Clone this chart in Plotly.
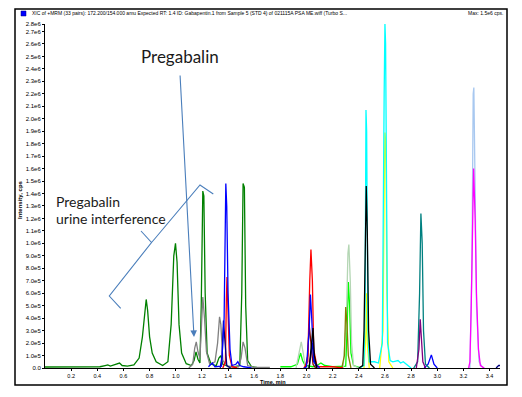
import plotly.graph_objects as go

# ---------------- data ----------------
green_t = [0.00, 0.37, 0.42, 0.46, 0.48, 0.50, 0.55, 0.57, 0.59, 0.63, 0.68, 0.72, 0.745, 0.765, 0.774, 0.785, 0.80, 0.82, 0.85, 0.90,
           0.94, 0.965, 0.985, 0.998, 1.01, 1.025, 1.045, 1.08, 1.12, 1.14, 1.155, 1.17, 1.185, 1.195, 1.207, 1.215, 1.225, 1.24,
           1.27, 1.31, 1.33, 1.345, 1.36, 1.40, 1.45, 1.49, 1.505, 1.515, 1.525, 1.535, 1.55, 1.58, 1.62]
green_i = [0.8e4, 0.8e4, 1.0e4, 2.0e4, 2.5e4, 1.5e4, 3.0e4, 4.0e4, 2.0e4, 1.5e4, 2.5e4, 8e4, 2.5e5, 4.8e5, 5.5e5, 4.6e5, 2.5e5, 1.2e5, 5e4, 2.0e4,
           5e4, 3.5e5, 9.0e5, 1.0e6, 8.5e5, 3.5e5, 1.2e5, 3.5e4, 2.0e4, 6e4, 1.3e5, 7e4, 4e4, 5e5, 1.42e6, 1.38e6, 6e5, 1.2e5,
           3e4, 2e4, 8e4, 1.0e5, 3e4, 1.5e4, 1.0e4, 2e4, 6e5, 1.48e6, 1.45e6, 5e5, 6e4, 1.0e4, 0.5e4]

gray_t = [1.10, 1.13, 1.145, 1.157, 1.17, 1.185, 1.195, 1.207, 1.22, 1.235, 1.26, 1.30, 1.32, 1.335, 1.345, 1.36, 1.40, 1.48, 1.50, 1.515, 1.53, 1.55, 1.60, 1.72]
gray_i = [0, 3e4, 1.6e5, 2.1e5, 1.3e5, 8e4, 3e5, 5.7e5, 4e5, 1.3e5, 3e4, 5e4, 2e5, 4.1e5, 3.5e5, 6e4, 1e4, 1e4, 8e4, 2.1e5, 1.6e5, 2e4, 5e3, 5e3]

blue_t = [1.25, 1.28, 1.30, 1.35, 1.37, 1.378, 1.383, 1.39, 1.40, 1.415, 1.43, 1.46, 1.475, 1.49, 1.52, 1.58, None,
          1.98, 2.00, 2.02, 2.03, 2.04, 2.055, 2.10, None,
          2.90, 2.93, 2.955, 2.975, 3.00]
blue_i = [1e4, 4e4, 1e4, 1.5e4, 4e5, 1.2e6, 1.48e6, 1.3e6, 6e5, 1.5e5, 2e4, 3e4, 5e4, 2e4, 1e4, 0, None,
          0, 1e4, 3e5, 5.9e5, 4e5, 5e4, 0, None,
          0, 3e4, 1.05e5, 3e4, 0]

navy_t = [1.34, 1.355, 1.365, 1.375, 1.39, 1.42, None, 2.02, 2.035, 2.045, 2.06, 2.08, None, 3.45, 3.47, 3.48]
navy_i = [0, 1e5, 3.8e5, 2e5, 2e4, 0, None, 0, 1.5e5, 2e5, 5e4, 0, None, 0, 2e4, 2e4]

red_t = [1.36, 1.38, 1.387, 1.392, 1.40, 1.41, 1.43, 1.47, None,
         1.98, 2.01, 2.025, 2.034, 2.045, 2.055, 2.08, 2.10, 2.20, 2.28]
red_i = [0, 5e4, 5.5e5, 7.3e5, 4.5e5, 1e5, 1e4, 0, None,
         0, 5e4, 7e5, 9.5e5, 7e5, 1.5e5, 1.5e4, 1e4, 1e4, 0]

maroon_t = [1.99, 2.01, 2.02, 2.035, 2.05, 2.07]
maroon_i = [0, 1e5, 3.5e5, 2e5, 3e4, 0]

palegreen_t = [1.92, 1.95, 1.96, 1.975, 1.99, 2.02, None, 2.28, 2.305, 2.317, 2.324, 2.335, 2.345, 2.36, 2.40]
palegreen_i = [0, 1.5e5, 2.1e5, 1.2e5, 2e4, 0, None, 0, 4e5, 9.2e5, 9.9e5, 7e5, 2e5, 2e4, 0]

lime_t = [1.80, 1.88, 1.93, 1.955, 1.97, 1.99, 2.05, 2.08, 2.11, 2.14, 2.20, 2.30, 2.31, 2.32, 2.33, 2.34, 2.36, 2.42]
lime_i = [1e4, 1e4, 3e4, 1.2e5, 6e4, 2e4, 1e4, 2e4, 4e4, 2e4, 1e4, 1.5e4, 3e5, 6.9e5, 5e5, 1.2e5, 2e4, 0]

olive_t = [2.27, 2.29, 2.30, 2.31, 2.32, 2.34]
olive_i = [0, 1e5, 4.9e5, 3.5e5, 1e5, 0]

black_t = [2.02, 2.04, 2.05, 2.06, 2.08, None, 2.40, 2.43, 2.44, 2.45, 2.457, 2.465, 2.475, 2.49, 2.52]
black_i = [0, 2.5e5, 3.2e5, 1e5, 0, None, 0, 2e4, 3e5, 1.2e6, 1.46e6, 1.1e6, 3e5, 3e4, 0]

cyan_t = [2.40, 2.44, 2.448, 2.455, 2.46, 2.47, 2.48, 2.52, 2.55, 2.58, 2.594, 2.600, 2.605, 2.612, 2.62, 2.64, 2.66,
          2.70, 2.72, 2.74, 2.78, 2.80]
cyan_i = [0, 2e4, 5e5, 2.07e6, 1.9e6, 3e5, 5e4, 5e4, 4e4, 2e5, 2.2e6, 2.76e6, 2.6e6, 1.5e6, 2e5, 6e4, 5e4,
          6e4, 4e4, 5e4, 2e4, 0]

yellow_t = [2.44, 2.455, 2.46, 2.465, 2.48, None, 2.56, 2.585, 2.595, 2.600, 2.607, 2.615, 2.63, 2.66]
yellow_i = [0, 3e5, 6e5, 2e5, 0, None, 0, 3e5, 1.5e6, 1.89e6, 1.8e6, 6e5, 5e4, 0]

teal_t = [2.82, 2.85, 2.865, 2.875, 2.885, 2.895, 2.91, 2.94]
teal_i = [0, 5e4, 6e5, 1.24e6, 1.0e6, 3e5, 3e4, 0]

purple_t = [2.84, 2.86, 2.87, 2.88, 2.89, 2.91]
purple_i = [0, 1.5e5, 3.9e5, 2.5e5, 5e4, 0]

lightblue_t = [3.25, 3.265, 3.275, 3.28, 3.29, 3.30, 3.32, 3.35]
lightblue_i = [0, 8e5, 2.2e6, 2.25e6, 1.4e6, 5e5, 5e4, 0]

magenta_t = [3.24, 3.25, 3.26, 3.27, 3.278, 3.29, 3.30, 3.315, 3.33, 3.36]
magenta_i = [0, 5e4, 5e5, 1.3e6, 1.6e6, 1.2e6, 6e5, 1.5e5, 2e4, 0]

y_tick_vals = [i * 1e5 for i in range(28)] + [2.76e6]
y_tick_text = (["0.0"] + [f"{i}.0e5" for i in range(1, 10)] +
               [f"{v / 10:.1f}e6" for v in range(10, 28)] + ["2.8e6"])
x_tick_vals = [round(0.2 * i, 1) for i in range(1, 18)]
x_tick_text = [f"{v:.1f}" for v in x_tick_vals]

title_text = ("XIC of +MRM (33 pairs): 172.200/154.000 amu Expected RT: 1.4 ID: Gabapentin.1 "
              "from Sample 5 (STD 4) of 021115A PSA ME.wiff (Turbo S...")
max_text = "Max: 1.5e6 cps."

# ---------------- layout geometry ----------------
# the page body has an 8px default margin, so the figure is offset by OFF px
OFF = 8
W, H = 522 - OFF, 397 - OFF
PL, PR, PT, PB = 45, 500, 24, 368          # plot area in page pixels
ML, MR, MT, MB = PL - OFF, (W + OFF) - PR, PT - OFF, (H + OFF) - PB
XMAX, YMAX = 3.48, 2.76e6
PW, PH = PR - PL, PB - PT


def px2data(px, py):
    return ((px - PL) / PW * XMAX, (PB - py) / PH * YMAX)


def px2paper(px, py):
    return ((px - PL) / PW, (PB - py) / PH)


series = [
    (green_t, green_i, "#008000"),
    (gray_t, gray_i, "#808080"),
    (lime_t, lime_i, "#00ff00"),
    (palegreen_t, palegreen_i, "#b4d6b4"),
    (olive_t, olive_i, "#808000"),
    (maroon_t, maroon_i, "#800000"),
    (red_t, red_i, "#ff0000"),
    (navy_t, navy_i, "#000080"),
    (blue_t, blue_i, "#0000ff"),
    (yellow_t, yellow_i, "#ffff00"),
    (cyan_t, cyan_i, "#00ffff"),
    (black_t, black_i, "#000000"),
    (teal_t, teal_i, "#008080"),
    (purple_t, purple_i, "#800080"),
    (lightblue_t, lightblue_i, "#a8c8f0"),
    (magenta_t, magenta_i, "#ff00ff"),
]

fig = go.Figure()
for t, i, c in series:
    fig.add_trace(go.Scatter(x=t, y=i, mode="lines", line=dict(color=c, width=1.3),
                             connectgaps=False, showlegend=False, hoverinfo="skip"))

ann_color = "#4a7ebb"

# brace (drawn as polyline)
brace_px = [(120.7, 308.3), (109.3, 296), (151.5, 242.5), (141, 231), (155, 238.5), (200, 185), (213.3, 194)]
pts = [px2data(*p) for p in brace_px]
path = "M " + " L ".join(f"{x:.5f},{y:.1f}" for x, y in pts[:4]) + \
       " M " + f"{pts[2][0]:.5f},{pts[2][1]:.1f} L " + " L ".join(f"{x:.5f},{y:.1f}" for x, y in pts[4:])
shapes = [dict(type="path", path=path, xref="x", yref="y", line=dict(color=ann_color, width=1.1))]

# outer frame
fx0, fy0 = px2paper(15, 385)
fx1, fy1 = px2paper(507, 9)
shapes.append(dict(type="rect", xref="paper", yref="paper", x0=fx0, y0=fy0, x1=fx1, y1=fy1,
                   line=dict(color="black", width=1.5)))
# blue square in title bar
sx0, sy0 = px2paper(21, 16)
sx1, sy1 = px2paper(26, 11)
shapes.append(dict(type="rect", xref="paper", yref="paper", x0=sx0, y0=sy0, x1=sx1, y1=sy1,
                   line=dict(color="#000080", width=0.5), fillcolor="#0000ff"))

head = px2data(194, 337)
tx, ty = px2paper(30, 13)
mx, my = px2paper(505, 13)
p1x, p1y = px2paper(180, 57)
u1x, u1y = px2paper(54, 201)
u2x, u2y = px2paper(54, 218)
ytx, yty = px2paper(20, 200)
xtx, xty = px2paper(273, 381.5)

annotations = [
    dict(x=head[0], y=head[1], xref="x", yref="y", ax=-14, ay=-263, showarrow=True,
         arrowhead=2, arrowsize=1.2, arrowwidth=1.1, arrowcolor=ann_color, text=""),
    dict(x=p1x, y=p1y, xref="paper", yref="paper", text="Pregabalin", showarrow=False,
         font=dict(family="Lato", size=17, color="#1a1a1a"), xanchor="center", yanchor="middle"),
    dict(x=u1x, y=u1y, xref="paper", yref="paper", text="Pregabalin", showarrow=False,
         font=dict(family="Lato", size=14, color="#1a1a1a"), xanchor="left", yanchor="middle"),
    dict(x=u2x, y=u2y, xref="paper", yref="paper", text="urine interference", showarrow=False,
         font=dict(family="Lato", size=14, color="#1a1a1a"), xanchor="left", yanchor="middle"),
    dict(x=tx, y=ty, xref="paper", yref="paper", text=title_text, showarrow=False,
         font=dict(family="Liberation Sans", size=5, color="black"), xanchor="left", yanchor="middle"),
    dict(x=mx, y=my, xref="paper", yref="paper", text=max_text, showarrow=False,
         font=dict(family="Liberation Sans", size=5, color="black"), xanchor="right", yanchor="middle"),
    dict(x=ytx, y=yty, xref="paper", yref="paper", text="<b>Intensity, cps</b>", showarrow=False,
         textangle=-90, font=dict(family="Liberation Sans", size=6, color="black"),
         xanchor="center", yanchor="middle"),
    dict(x=xtx, y=xty, xref="paper", yref="paper", text="<b>Time, min</b>", showarrow=False,
         font=dict(family="Liberation Sans", size=5.5, color="black"), xanchor="center", yanchor="middle"),
]

fig.update_layout(
    width=W, height=H,
    margin=dict(l=ML, r=MR, t=MT, b=MB, autoexpand=False),
    paper_bgcolor="white", plot_bgcolor="white",
    shapes=shapes, annotations=annotations,
    xaxis=dict(range=[0, XMAX], tickvals=x_tick_vals, ticktext=x_tick_text, showgrid=False, zeroline=False,
               showline=True, linecolor="black", linewidth=1, ticks="outside", ticklen=2,
               tickcolor="black", tickfont=dict(family="Liberation Sans", size=5.5, color="black")),
    yaxis=dict(range=[0, YMAX], tickvals=y_tick_vals, ticktext=y_tick_text, showgrid=False,
               zeroline=False, showline=True, linecolor="black", linewidth=1, ticks="outside",
               ticklen=2, tickcolor="black",
               tickfont=dict(family="Liberation Sans", size=6, color="black")),
)

fig.write_html("out.html")
